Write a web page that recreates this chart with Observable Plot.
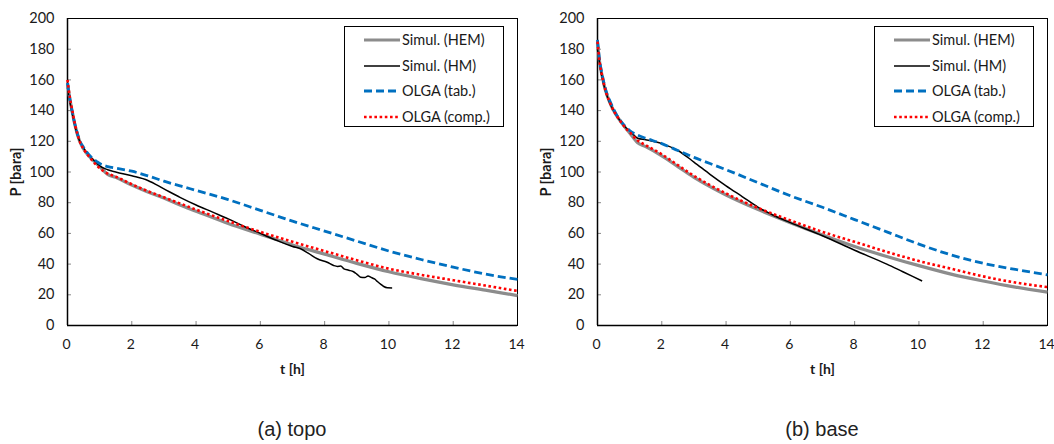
<!DOCTYPE html>
<html>
<head>
<meta charset="utf-8">
<script src="https://cdn.jsdelivr.net/npm/d3@7"></script>
<script src="https://cdn.jsdelivr.net/npm/@observablehq/plot@0.6"></script>
<style>
  body { margin: 0; background: #fff; }
  #root { position: relative; width: 1054px; height: 444px; overflow: hidden; }
  .panel { position: absolute; top: 0; width: 527px; height: 444px; }
  .panel svg { display: block; }
  .legend { position: absolute; top: 26px; width: 160px; height: 101px; border: 1px solid #000; box-sizing: border-box; background: #fff; font-family: Lato, sans-serif; font-size: 14.5px; color: #1a1a1a; }
  .legend .row { position: absolute; left: 0; height: 18px; width: 100%; }
  .legend .row svg { position: absolute; left: 17px; top: 4px; }
  .legend .row span { position: absolute; left: 57px; top: 0; line-height: 18px; white-space: nowrap; }
  .caption { position: absolute; top: 417px; font-family: "Liberation Sans", Arial, sans-serif; font-size: 20px; color: #222; text-align: center; line-height: 24px; }
  [aria-label="x-axis label"] text, [aria-label="y-axis label"] text { font-weight: bold; }
</style>
</head>
<body>
<div id="root"></div>
<script>
// ---- Data ----
const xTicks = [0, 2, 4, 6, 8, 10, 12, 14];
const yTicks = [0, 20, 40, 60, 80, 100, 120, 140, 160, 180, 200];
const seriesNames = ["Simul. (HEM)", "Simul. (HM)", "OLGA (tab.)", "OLGA (comp.)"];
const captions = ["(a) topo", "(b) base"];

// common time grid (h) for HEM / OLGA curves
const timeGrid = [0, 0.07, 0.14, 0.25, 0.37, 0.5, 0.6, 0.75, 0.9, 1.0, 1.25, 1.5, 2, 2.5, 3, 3.5, 4, 5, 6, 7, 8, 9, 10, 11, 12, 13, 14];

// (a) topo
const topoHEM = [158, 148, 140, 129, 120.5, 115, 112, 108.5, 105.5, 103.5, 98.5, 96.5, 91.5, 87, 83, 78.5, 74.5, 66.5, 59.5, 52.5, 46.5, 40.5, 35, 30.5, 26.5, 23, 19.5];
const topoOLGAtab = [158, 148, 140, 129.5, 121, 116, 113, 109.5, 107, 105.5, 103.5, 102.5, 100.5, 97.5, 94, 91, 88, 82, 75, 68, 61.5, 55, 48.5, 43, 38, 33.5, 30];
const topoOLGAcomp = [160, 149, 141, 129.5, 120.5, 115, 112, 108, 104.5, 102.5, 99, 97, 92, 87.5, 83.5, 79.5, 75.5, 68, 61, 54.5, 48.5, 42.5, 37, 33, 29.5, 26, 22.5];
const topoHM_t = [0, 0.07, 0.14, 0.25, 0.37, 0.5, 0.6, 0.75, 0.9, 1.0, 1.25, 1.5, 2, 2.5, 3, 3.5, 4, 4.5, 5, 5.5, 6, 6.5, 7, 7.25, 7.5, 7.77, 8.08, 8.28, 8.4, 8.5, 8.6, 8.75, 8.9, 9.0, 9.12, 9.25, 9.35, 9.43, 9.55, 9.65, 9.75, 9.84, 9.95, 10.1];
const topoHM_p = [155, 146, 139, 128.5, 120.5, 115.5, 112.5, 109, 106, 104, 101.5, 100, 97.5, 94.5, 89, 83.5, 78.5, 74, 69.5, 64.5, 60, 55.5, 51.5, 50, 47, 43.5, 41.2, 39.1, 38.5, 38.7, 36.9, 36, 35, 33.5, 31.5, 31.2, 32.3, 31.5, 30.3, 28.5, 26.8, 25.4, 24.6, 24.5];

// (b) base
const baseHEM = [184, 171, 163, 153, 146, 140, 136.5, 132, 128, 125.5, 119, 116.5, 110.5, 103.5, 96.5, 90.5, 85, 75.5, 67, 59, 51.5, 45, 39, 33.5, 29, 25, 21.7];
const baseOLGAtab = [186, 172, 164, 154, 147, 141, 137, 132.5, 129, 127, 124, 122, 118.5, 114, 109.5, 105.5, 101.5, 93, 84.5, 77, 69, 61, 53, 46, 40.5, 36.5, 33];
const baseOLGAcomp = [185, 171, 163, 153, 146, 140, 136.5, 132, 128, 126, 120.5, 117.5, 111.5, 104.5, 97.5, 91.5, 86, 76.5, 68.5, 61, 54.5, 48, 42, 37, 32, 28, 25];
const baseHM_t = [0, 0.07, 0.14, 0.25, 0.37, 0.5, 0.6, 0.75, 0.9, 1.0, 1.25, 1.5, 2, 2.5, 3, 3.5, 4, 4.5, 5, 5.5, 6, 7, 8, 9, 9.5, 10.1];
const baseHM_p = [180, 170, 162, 152.5, 145.5, 140, 136.5, 132, 128.5, 127, 122, 121, 118.5, 114, 106.5, 98.5, 91, 84, 77, 71.5, 67, 58.5, 49, 40, 35, 29];

// ---- Styles ----
const styles = [
  {stroke: "#8c8c8c", strokeWidth: 3.2, dash: null},
  {stroke: "#000000", strokeWidth: 1.5, dash: null},
  {stroke: "#0070c0", strokeWidth: 2.8, dash: "8,4"},
  {stroke: "#ff0000", strokeWidth: 2.6, dash: "2.6,2.6"}
];

const rows = (ts, ps) => ts.map((t, i) => ({t, p: ps[i]}));

const panels = [
  {left: 0, ml: 67, mr: 10, caption: captions[0],
   series: [rows(timeGrid, topoHEM), rows(topoHM_t, topoHM_p), rows(timeGrid, topoOLGAtab), rows(timeGrid, topoOLGAcomp)]},
  {left: 527, ml: 70, mr: 7, caption: captions[1],
   series: [rows(timeGrid, baseHEM), rows(baseHM_t, baseHM_p), rows(timeGrid, baseOLGAtab), rows(timeGrid, baseOLGAcomp)]}
];

const root = document.getElementById("root");

for (const pn of panels) {
  const div = document.createElement("div");
  div.className = "panel";
  div.style.left = pn.left + "px";
  root.appendChild(div);

  const lineMarks = pn.series.map((data, i) => Plot.line(data, {
    x: "t", y: "p", stroke: styles[i].stroke, strokeWidth: styles[i].strokeWidth,
    strokeDasharray: styles[i].dash, curve: "monotone-x", strokeLinecap: "butt"
  }));

  const chart = Plot.plot({
    width: 527, height: 385,
    marginLeft: pn.ml, marginRight: pn.mr, marginTop: 18, marginBottom: 60,
    style: {fontFamily: "Lato, sans-serif", fontSize: "14.5px", color: "#1a1a1a", background: "#fff"},
    x: {domain: [0, 14]},
    y: {domain: [0, 200]},
    marks: [
      Plot.axisX({ticks: xTicks, tickSize: -4, tickPadding: 18, stroke: "#888", fontSize: 14, label: "t [h]", labelAnchor: "center", labelOffset: 48, labelArrow: "none"}),
      Plot.axisX({ticks: xTicks, tickSize: 0, text: null, label: null}),
      Plot.axisY({ticks: yTicks, tickSize: -4, tickPadding: 17, stroke: "#888", label: "P [bara]", labelAnchor: "center", labelOffset: 57, labelArrow: "none"}),
      Plot.frame({stroke: "#000", strokeWidth: 1}),
      Plot.ruleY([0], {stroke: "#000", strokeWidth: 1.5}),
      Plot.ruleX([0], {stroke: "#000", strokeWidth: 1.5}),
      ...lineMarks
    ]
  });
  div.appendChild(chart);

  // legend
  const lg = document.createElement("div");
  lg.className = "legend";
  lg.style.left = (pn.ml + 277) + "px";
  const centers = [13, 38.5, 64, 89.5];
  seriesNames.forEach((name, i) => {
    const r = document.createElement("div");
    r.className = "row";
    r.style.top = (centers[i] - 9) + "px";
    const s = styles[i];
    r.innerHTML = `<svg width="40" height="10"><line x1="2" x2="38" y1="5" y2="5" stroke="${s.stroke}" stroke-width="${s.strokeWidth}" ${s.dash ? `stroke-dasharray="${s.dash}"` : ""}/></svg><span>${name}</span>`;
    lg.appendChild(r);
  });
  div.appendChild(lg);

  // caption
  const cap = document.createElement("div");
  cap.className = "caption";
  cap.style.left = pn.ml + "px";
  cap.style.width = "450px";
  cap.textContent = pn.caption;
  div.appendChild(cap);
}

// keep the last x tick label of each panel inside the page
document.querySelectorAll('[aria-label="x-axis tick label"] text').forEach((t, i, all) => {
  t.setAttribute("dx", "-1");
});
</script>
</body>
</html>
